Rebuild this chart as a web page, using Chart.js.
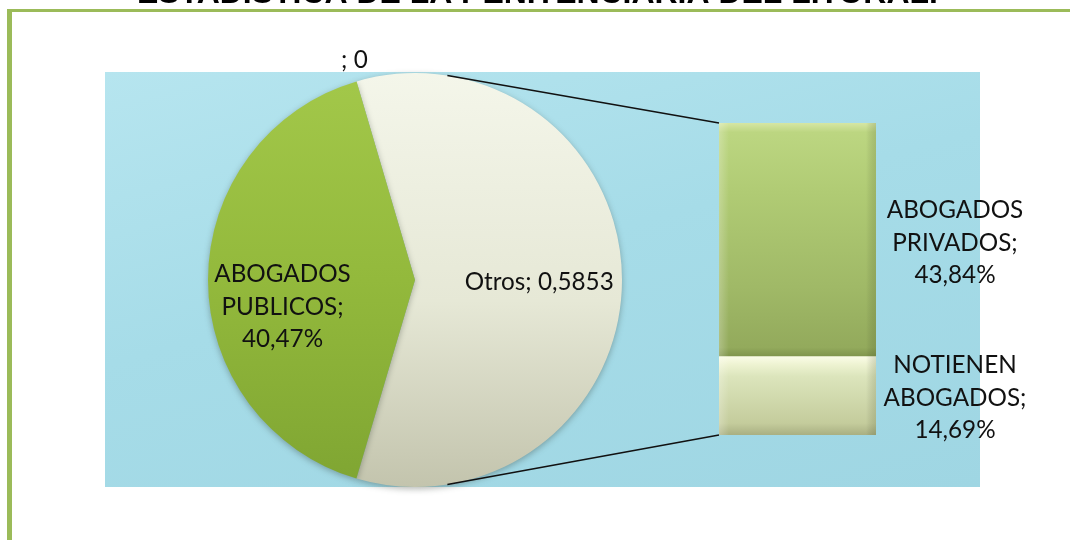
<!DOCTYPE html>
<html><head><meta charset="utf-8">
<script src="https://cdn.jsdelivr.net/npm/chart.js@4.4.1/dist/chart.umd.min.js"></script>
<style>
html,body{margin:0;padding:0;background:#fff;}
body{width:1070px;height:540px;position:relative;overflow:hidden;}
#bg{position:absolute;left:105px;top:72px;width:875px;height:415px;
 background:linear-gradient(165deg,#B6E5EF 0%,#A6DCE8 45%,#9FD6E3 100%);}
#frameL{position:absolute;left:7px;top:9px;width:5px;height:531px;background:#9BBB59;}
#frameT{position:absolute;left:7px;top:9px;width:1063px;height:3px;background:#9BBB59;}
canvas{position:absolute;left:0;top:0;}
</style></head>
<body>
<div id="frameL"></div><div id="frameT"></div>
<div id="bg"></div>
<canvas id="pie" width="1070" height="540"></canvas>
<canvas id="bar" width="1070" height="540"></canvas>
<script>
// ---- data ----
const TITLE = 'ESTADÍSTICA DE LA PENITENCIARIA DEL LITORAL.';
const pieLabels = ['Otros', 'ABOGADOS PUBLICOS', ''];
const pieValues = [58.53, 40.47, 0];
const pieValueText = ['0,5853', '40,47%', '0'];
const barLabels = ['NOTIENEN ABOGADOS', 'ABOGADOS PRIVADOS'];
const barValues = [14.69, 43.84];
const barValueText = ['14,69%', '43,84%'];

const FONT = 'Lato, "Open Sans", sans-serif';
Chart.defaults.animation = false;

function linGrad(ctx, stops, y0, y1){
  const g = ctx.createLinearGradient(0, y0, 0, y1);
  stops.forEach(s => g.addColorStop(s[0], s[1]));
  return g;
}

const pieChart = new Chart(document.getElementById('pie'), {
  type: 'pie',
  data: {
    labels: pieLabels,
    datasets: [{
      data: pieValues,
      borderWidth: 0,
      backgroundColor: (c) => {
        const a = c.chart.chartArea;
        if (!a || !isFinite(a.top) || !isFinite(a.bottom)) return ['#E8EBD8', '#94BA3C', '#ccc'][c.dataIndex];
        const ctx = c.chart.ctx;
        if (c.dataIndex === 0) return linGrad(ctx, [[0,'#F4F6EA'],[0.55,'#E6E8D6'],[1,'#C3C4AD']], a.top, a.bottom);
        if (c.dataIndex === 1) return linGrad(ctx, [[0,'#A3C84A'],[0.5,'#93B93C'],[1,'#7FA532']], a.top, a.bottom);
        return '#ccc';
      }
    }]
  },
  options: {
    responsive: false,
    rotation: -16.4,
    layout: { padding: { left: 208, right: 448, top: 73, bottom: 53 } },
    plugins: { legend: { display: false }, tooltip: { enabled: false }, title: { display: false } }
  },
  plugins: [{
    id: 'shadow',
    beforeDatasetsDraw(chart){
      const ctx = chart.ctx; ctx.save();
      ctx.shadowColor = 'rgba(40,50,40,0.35)'; ctx.shadowBlur = 6; ctx.shadowOffsetY = 2;
    },
    afterDatasetsDraw(chart){ chart.ctx.restore(); }
  }]
});

const barChart = new Chart(document.getElementById('bar'), {
  type: 'bar',
  data: {
    labels: ['Otros'],
    datasets: barValues.map((v, i) => ({
      label: barLabels[i],
      data: [v],
      barPercentage: 1,
      categoryPercentage: 1,
      borderWidth: 0,
      backgroundColor: (c) => {
        const fallback = i === 0 ? '#DCE4B8' : '#A3BF62';
        const y = c.chart.scales && c.chart.scales.y;
        if (!y) return fallback;
        const b0 = barValues.slice(0, i).reduce((a, b) => a + b, 0);
        const bot = y.getPixelForValue(b0), top = y.getPixelForValue(b0 + barValues[i]);
        if (!isFinite(bot) || !isFinite(top) || bot === top) return fallback;
        const ctx = c.chart.ctx;
        if (i === 0) return linGrad(ctx, [[0,'#FAFCE6'],[0.1,'#EEF3D2'],[0.25,'#DCE5BC'],[0.85,'#C4CC9C'],[1,'#A9AF82']], top, bot);
        return linGrad(ctx, [[0,'#D6E6A4'],[0.04,'#BCD681'],[0.3,'#B0CB74'],[0.7,'#A0B967'],[0.96,'#93AA5C'],[1,'#7F944C']], top, bot);
      }
    }))
  },
  options: {
    responsive: false,
    layout: { padding: { left: 719, right: 194, top: 123, bottom: 105 } },
    scales: {
      x: { display: false, stacked: true },
      y: { display: false, stacked: true, min: 0, max: barValues.reduce((a, b) => a + b, 0) }
    },
    plugins: { legend: { display: false }, tooltip: { enabled: false } }
  },
  plugins: [{
    id: 'labels',
    afterDatasetsDraw(chart){
      const ctx = chart.ctx;
      ctx.save();
      chart.data.datasets.forEach((ds, i) => {
        const el = chart.getDatasetMeta(i).data[0];
        const l = el.x - el.width / 2, r = el.x + el.width / 2;
        const t = Math.min(el.y, el.base), b = Math.max(el.y, el.base);
        let g = ctx.createLinearGradient(l, 0, l + 10, 0);
        g.addColorStop(0, 'rgba(255,255,255,0.25)'); g.addColorStop(1, 'rgba(255,255,255,0)');
        ctx.fillStyle = g; ctx.fillRect(l, t, 10, b - t);
        g = ctx.createLinearGradient(r - 10, 0, r, 0);
        g.addColorStop(0, 'rgba(0,0,0,0)'); g.addColorStop(1, 'rgba(60,70,30,0.18)');
        ctx.fillStyle = g; ctx.fillRect(r - 10, t, 10, b - t);
      });
      ctx.restore();
    },
    afterDraw(chart){
      const ctx = chart.ctx;
      const pm = pieChart.getDatasetMeta(0);
      const arc0 = pm.data[0];
      const cx = arc0.x, cy = arc0.y, R = arc0.outerRadius;
      const bm0 = chart.getDatasetMeta(0).data[0];
      const bm1 = chart.getDatasetMeta(1).data[0];
      const bLeft = bm1.x - bm1.width / 2, bRight = bm1.x + bm1.width / 2;
      const bTop = bm1.y, bBot = bm0.base;

      const ang = 9 * Math.PI / 180;
      ctx.save();
      ctx.strokeStyle = '#111'; ctx.lineWidth = 1.6;
      ctx.beginPath();
      ctx.moveTo(cx + R * Math.sin(ang), cy - R * Math.cos(ang));
      ctx.lineTo(bLeft, bTop);
      ctx.moveTo(cx + R * Math.sin(ang), cy + R * Math.cos(ang));
      ctx.lineTo(bLeft, bBot);
      ctx.stroke();
      ctx.restore();

      ctx.save();
      ctx.font = '22px ' + FONT;
      const w = ctx.measureText('Otros; 0,5853').width;
      const fs = 22 * 149 / w;
      ctx.font = fs.toFixed(2) + 'px ' + FONT;
      ctx.fillStyle = '#111';
      ctx.textAlign = 'center'; ctx.textBaseline = 'middle';
      const LH = 32.5;
      const drawLines = (lines, x, y) => {
        lines.forEach((t, k) => ctx.fillText(t, x, y + (k - (lines.length - 1) / 2) * LH));
      };
      const midPoint = (el, f) => {
        const a = (el.startAngle + el.endAngle) / 2;
        return [el.x + Math.cos(a) * R * f, el.y + Math.sin(a) * R * f];
      };
      let p = midPoint(pm.data[0], 0.6);
      drawLines([pieLabels[0] + '; ' + pieValueText[0]], p[0], p[1] + 2);
      p = midPoint(pm.data[1], 0.64);
      drawLines(['ABOGADOS', 'PUBLICOS;', pieValueText[1]], p[0], p[1] + 27);
      p = midPoint(pm.data[2], 1.105);
      drawLines([pieLabels[2] + '; ' + pieValueText[2]], p[0] + 4, p[1]);
      const lx = bRight + 79;
      drawLines(['ABOGADOS', 'PRIVADOS;', barValueText[1]], lx, (bm1.y + bm1.base) / 2 + 3);
      drawLines(['NOTIENEN', 'ABOGADOS;', barValueText[0]], lx, (bm0.y + bm0.base) / 2 + 2);

      ctx.font = 'bold 26px "Liberation Sans", Arial, sans-serif';
      const tw = ctx.measureText(TITLE).width;
      const tfs = 26 * 801 / tw;
      ctx.font = 'bold ' + tfs.toFixed(2) + 'px "Liberation Sans", Arial, sans-serif';
      ctx.textAlign = 'left'; ctx.textBaseline = 'alphabetic';
      ctx.fillStyle = '#000';
      ctx.fillText(TITLE, 137, 3);
      ctx.restore();
    }
  }]
});
</script>
</body></html>
